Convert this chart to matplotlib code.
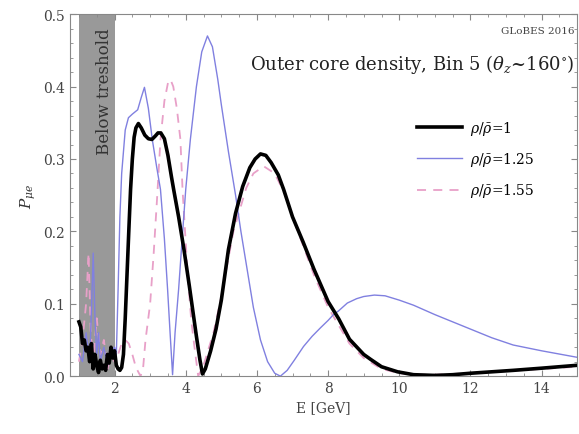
import matplotlib
matplotlib.use("Agg")
import matplotlib.pyplot as plt

plt.rcParams['font.family'] = ['DejaVu Serif']
plt.rcParams['mathtext.fontset'] = 'dejavuserif'

# rho/rho_bar = 1
e_black = [1.0, 1.05, 1.1, 1.15, 1.2, 1.25, 1.3, 1.35, 1.4, 1.45, 1.5, 1.55, 1.6, 1.65,
           1.7, 1.75, 1.8, 1.85, 1.9, 1.95, 2.0, 2.05, 2.1, 2.15, 2.2, 2.25, 2.3, 2.35,
           2.4, 2.45, 2.5, 2.55, 2.6, 2.67, 2.75, 2.85, 2.95, 3.05, 3.15, 3.22, 3.3,
           3.4, 3.5, 3.6, 3.66, 3.8, 3.95, 4.1, 4.2, 4.3, 4.4, 4.47, 4.55, 4.7, 4.85,
           5.0, 5.1, 5.2, 5.4, 5.6, 5.8, 5.95, 6.1, 6.25, 6.4, 6.6, 6.75, 7.0, 7.3, 7.6,
           8.0, 8.3, 8.6, 9.0, 9.2, 9.5, 9.95, 10.4, 11.0, 11.5, 12.0, 13.2, 14.0, 15.0]
p_black = [0.075, 0.068, 0.045, 0.05, 0.035, 0.04, 0.02, 0.045, 0.01, 0.03, 0.015, 0.005,
           0.022, 0.01, 0.015, 0.008, 0.03, 0.018, 0.04, 0.025, 0.035, 0.015, 0.01, 0.008,
           0.012, 0.03, 0.08, 0.14, 0.2, 0.258, 0.3, 0.33, 0.343, 0.349, 0.343, 0.333,
           0.328, 0.327, 0.332, 0.336, 0.336, 0.328, 0.305, 0.275, 0.258, 0.22, 0.175,
           0.125, 0.09, 0.055, 0.022, 0.003, 0.01, 0.035, 0.065, 0.105, 0.14, 0.175,
           0.225, 0.262, 0.288, 0.3, 0.307, 0.305, 0.295, 0.278, 0.258, 0.22, 0.185,
           0.148, 0.103, 0.079, 0.051, 0.03, 0.023, 0.013, 0.006, 0.002, 0.001, 0.002,
           0.004, 0.008, 0.011, 0.015]

# rho/rho_bar = 1.25
e_blue = [1.0, 1.1, 1.2, 1.3, 1.35, 1.4, 1.45, 1.5, 1.55, 1.6, 1.7, 1.8, 1.9, 2.0, 2.05,
          2.1, 2.15, 2.2, 2.3, 2.39, 2.5, 2.65, 2.75, 2.84, 2.95, 3.06, 3.18, 3.29, 3.4,
          3.49, 3.56, 3.63, 3.7, 3.8, 3.9, 4.0, 4.13, 4.3, 4.45, 4.61, 4.75, 4.9, 5.0,
          5.2, 5.4, 5.55, 5.74, 5.9, 6.1, 6.3, 6.5, 6.66, 6.85, 7.05, 7.31, 7.55, 7.79,
          8.0, 8.15, 8.29, 8.54, 8.8, 9.0, 9.3, 9.6, 10.0, 10.4, 11.0, 11.5, 12.0, 12.6,
          13.2, 14.0, 15.0]
p_blue = [0.03, 0.02, 0.06, 0.02, 0.09, 0.17, 0.08, 0.03, 0.06, 0.02, 0.04, 0.015, 0.03,
          0.04, 0.03, 0.12, 0.22, 0.28, 0.34, 0.357, 0.362, 0.368, 0.385, 0.399, 0.37,
          0.327, 0.29, 0.258, 0.19, 0.12, 0.06, 0.002, 0.06, 0.12, 0.19, 0.258, 0.327,
          0.4, 0.448, 0.47, 0.455, 0.41, 0.375, 0.31, 0.25, 0.2, 0.143, 0.095, 0.05,
          0.02, 0.004, 0.0, 0.008, 0.022, 0.041, 0.055, 0.067, 0.077, 0.085, 0.09, 0.101,
          0.107, 0.11, 0.112, 0.111, 0.105, 0.098, 0.085, 0.075, 0.065, 0.053, 0.043,
          0.035, 0.026]

# rho/rho_bar = 1.55
e_pink = [1.0, 1.1, 1.2, 1.27, 1.33, 1.4, 1.5, 1.6, 1.7, 1.8, 1.9, 2.0, 2.1, 2.2, 2.3,
          2.4, 2.5, 2.6, 2.73, 2.8, 2.87, 3.0, 3.1, 3.2, 3.29, 3.4, 3.5, 3.57, 3.65, 3.75,
          3.85, 3.91, 4.05, 4.15, 4.22, 4.35, 4.5, 4.78, 5.0, 5.34, 5.7, 5.9, 6.19, 6.5,
          6.8, 7.0, 7.3, 7.6, 8.0, 8.3, 8.6, 9.0, 9.5, 10.0, 10.5, 11.0, 12.0, 13.0,
          14.0, 15.0]
p_pink = [0.02, 0.05, 0.1, 0.17, 0.06, 0.02, 0.08, 0.03, 0.05, 0.01, 0.03, 0.02, 0.03,
          0.045, 0.05, 0.045, 0.03, 0.012, 0.0, 0.01, 0.05, 0.1, 0.17, 0.25, 0.327, 0.38,
          0.405, 0.41, 0.4, 0.37, 0.327, 0.258, 0.143, 0.08, 0.05, 0.0, 0.015, 0.06,
          0.11, 0.2, 0.26, 0.28, 0.29, 0.28, 0.25, 0.22, 0.18, 0.14, 0.095, 0.07, 0.045,
          0.025, 0.01, 0.004, 0.002, 0.002, 0.004, 0.007, 0.01, 0.013]

labels = [r'$\rho/\bar{\rho}$=1', r'$\rho/\bar{\rho}$=1.25', r'$\rho/\bar{\rho}$=1.55']

fig = plt.figure(figsize=(5.79, 4.35), dpi=100)
ax = fig.add_axes([0.121, 0.133, 0.876, 0.832])

ax.axvspan(1.0, 2.0, color='#999999', lw=0, zorder=0)
ax.text(1.72, 0.482, 'Below treshold', rotation=90, ha='center', va='top',
        fontsize=12, color='#333333')

l3, = ax.plot(e_pink, p_pink, color='#e8a0c8', lw=1.3, ls=(0, (5, 4)), zorder=2)
l2, = ax.plot(e_blue, p_blue, color='#8080e0', lw=1.0, zorder=3)
l1, = ax.plot(e_black, p_black, color='black', lw=2.6, zorder=4)

ax.set_xlim(0.75, 15)
ax.set_ylim(0, 0.5)
ax.set_xticks([2, 4, 6, 8, 10, 12, 14])
ax.set_yticks([0.0, 0.1, 0.2, 0.3, 0.4, 0.5])
ax.set_yticklabels(['0.0', '0.1', '0.2', '0.3', '0.4', '0.5'])
ax.minorticks_on()
ax.tick_params(which='both', direction='in', top=True, right=True, color='#888888',
               labelsize=10, labelcolor='#444444')
ax.tick_params(which='major', length=4)
ax.tick_params(which='minor', length=2)
for s in ax.spines.values():
    s.set_color('#888888')
    s.set_linewidth(0.8)

ax.set_xlabel('E [GeV]', fontsize=10, color='#444444')
ax.set_ylabel(r'$P_{\mu e}$', fontsize=11, color='#333333')

ax.text(0.995, 0.955, 'GLoBES 2016', transform=ax.transAxes, ha='right', va='center',
        fontsize=7.5, color='#444444')
ax.text(0.995, 0.865, r'Outer core density, Bin 5 ($\theta_z$~160$^{\circ}$)',
        transform=ax.transAxes, ha='right', va='center', fontsize=13, color='#222222')

ax.legend([l1, l2, l3], labels, loc='upper left', bbox_to_anchor=(0.66, 0.745),
          frameon=False, fontsize=10, handlelength=3.2, labelspacing=0.95,
          handletextpad=0.6)

fig.savefig('out.png', dpi=100)
